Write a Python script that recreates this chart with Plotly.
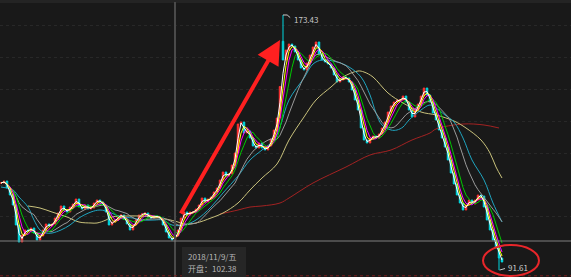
import plotly.graph_objects as go
import pandas as pd

# ---- data (price values) ----
close = [
    119.53, 120.18, 117.93, 115.68, 112.48, 106.06, 100.61, 102.85, 104.46, 104.14,
    105.10, 103.49, 101.25, 102.53, 104.46, 106.38, 105.74, 106.38, 108.31, 109.91,
    112.16, 110.87, 110.23, 111.83, 112.80, 114.40, 111.83, 111.19, 112.48, 111.19,
    111.51, 113.12, 114.08, 113.44, 112.48, 110.23, 106.06, 107.02, 107.66, 108.95,
    109.27, 107.98, 106.38, 104.46, 106.06, 107.66, 109.27, 109.59, 109.91, 108.63,
    108.31, 108.95, 108.63, 108.31, 106.06, 103.81, 101.89, 101.25, 102.53, 104.46,
    108.31, 110.23, 109.27, 110.23, 110.23, 111.19, 112.48, 114.72, 113.44, 114.40,
    115.04, 116.65, 117.93, 120.50, 123.06, 121.78, 122.42, 125.31, 129.16, 138.46,
    139.10, 135.57, 136.22, 133.97, 131.40, 130.76, 132.37, 130.76, 130.12, 131.40,
    133.65, 136.54, 140.39, 150.50, 158.99, 162.20, 164.12, 163.48, 161.56, 158.99,
    156.43, 155.78, 158.03, 160.60, 163.16, 164.77, 160.92, 158.99, 158.35, 157.71,
    156.43, 154.18, 151.93, 152.58, 153.54, 153.22, 151.93, 149.37, 146.16, 142.95,
    137.18, 133.33, 132.37, 133.97, 134.61, 133.97, 135.25, 137.18, 139.10, 142.31,
    144.24, 145.52, 146.16, 146.16, 147.44, 145.52, 142.95, 140.71, 142.95, 144.88,
    147.44, 150.01, 147.76, 145.52, 141.99, 139.74, 136.54, 133.97, 131.08, 126.91,
    122.74, 119.21, 115.68, 113.12, 110.87, 112.48, 114.08, 112.80, 114.08, 115.68,
    115.36, 111.83, 107.66, 104.46, 101.25, 98.68, 95.47, 94.19,
]
open_override = {94: 165.00}
high_override = {94: 173.43}
low_override = {166: 91.61}

# long moving averages (candle index, price)
ma_cyan_idx = [0, 4, 6, 9, 11, 13, 15, 17, 20, 23, 26, 30, 33, 36, 40, 44, 47, 51, 54, 57,
               61, 65, 70, 74, 79, 83, 87, 91, 93, 96, 101, 104, 107, 112, 116, 120, 123,
               125, 127, 130, 132, 134, 136, 140, 143, 145, 148, 151, 154, 157, 161, 164, 167]
ma_cyan_val = [118.25, 117.29, 115.04, 111.83, 107.66, 104.46, 103.49, 103.49, 104.46, 106.06,
               108.31, 110.23, 110.87, 110.23, 108.63, 108.31, 107.66, 107.66, 107.66, 106.06,
               106.06, 107.66, 111.83, 116.34, 121.77, 126.91, 130.12, 133.33, 137.50, 146.16,
               153.22, 157.71, 158.99, 158.35, 156.75, 153.54, 147.76, 141.99, 138.14, 136.54,
               136.54, 137.50, 139.74, 142.95, 144.56, 143.59, 141.35, 139.10, 133.97, 126.91,
               120.50, 113.12, 107.02]

ma_khaki_idx = [9, 13, 17, 22, 26, 30, 32, 35, 37, 42, 46, 51, 55, 59, 61, 65, 70, 74, 79, 83,
                87, 92, 96, 101, 105, 110, 114, 119, 121, 124, 129, 134, 140, 145, 151, 155,
                160, 163, 165, 167]
ma_khaki_val = [112.16, 111.51, 110.23, 108.63, 107.02, 106.70, 106.70, 107.66, 108.63, 108.95,
                108.95, 108.63, 107.98, 107.02, 106.38, 106.70, 108.31, 109.91, 113.12, 117.29,
                121.14, 125.63, 133.33, 140.71, 146.16, 150.33, 153.54, 155.46, 155.14, 153.54,
                148.41, 145.20, 142.31, 141.35, 139.42, 137.18, 133.33, 129.16, 124.67, 121.14]

ma_red_idx = [73, 79, 83, 87, 93, 96, 104, 115, 123, 130, 137, 143, 145, 154, 161, 166]
ma_red_val = [109.59, 110.87, 111.83, 112.16, 113.12, 114.72, 119.53, 124.67, 128.52, 130.12,
              133.33, 135.57, 136.86, 138.46, 138.14, 137.18]

hover_price = 100.93
max_label = "173.43"
min_label = "91.61"
tip_date = "2018/11/9/五"
tip_open = "开盘：102.38"

# ---- build OHLC ----
n = len(close)
idx = list(range(n))
opens = [close[0]] + close[:-1]
for k, v in open_override.items():
    opens[k] = v
highs = [max(o, c) for o, c in zip(opens, close)]
lows = [min(o, c) for o, c in zip(opens, close)]
for k, v in high_override.items():
    highs[k] = v
for k, v in low_override.items():
    lows[k] = v

s = pd.Series(close)
short_mas = [(2, "#ffffff"), (3, "#ffff00"), (4, "#ff00ff"), (6, "#00c800"), (12, "#9a9a9a")]

BG = "#191919"
FONT = "Noto Sans CJK SC, sans-serif"

fig = go.Figure()
fig.add_trace(go.Candlestick(
    x=idx, open=opens, high=highs, low=lows, close=close,
    increasing=dict(line=dict(color="#ff3030", width=1), fillcolor="#ff3030"),
    decreasing=dict(line=dict(color="#00d8e0", width=1), fillcolor="#00d8e0"),
    hoverinfo="skip", showlegend=False,
))
fig.add_trace(go.Scatter(x=ma_red_idx, y=ma_red_val, mode="lines", line=dict(color="#a32222", width=1, shape="spline"), hoverinfo="skip", showlegend=False))
fig.add_trace(go.Scatter(x=ma_khaki_idx, y=ma_khaki_val, mode="lines", line=dict(color="#c9c27c", width=1, shape="spline"), hoverinfo="skip", showlegend=False))
fig.add_trace(go.Scatter(x=ma_cyan_idx, y=ma_cyan_val, mode="lines", line=dict(color="#1fa5c0", width=1, shape="spline"), hoverinfo="skip", showlegend=False))
for w, col in reversed(short_mas):
    fig.add_trace(go.Scatter(x=idx, y=s.rolling(w, min_periods=1).mean(), mode="lines",
                             line=dict(color=col, width=1), hoverinfo="skip", showlegend=False))

# y pixel -> price:  p = 178.24 - 0.3208*y
grid_prices = [170.22, 159.95, 149.69, 139.42, 129.16, 118.89, 108.63]

fig.update_layout(
    width=571, height=277, margin=dict(l=0, r=0, t=0, b=0),
    paper_bgcolor=BG, plot_bgcolor=BG,
    xaxis=dict(range=[-1/3, 190], visible=True, showticklabels=False, showgrid=False,
               zeroline=False, rangeslider=dict(visible=False), fixedrange=True),
    yaxis=dict(range=[89.38, 178.24], showticklabels=False, zeroline=False,
               tickvals=grid_prices, showgrid=True, gridcolor="#282828", griddash="dot",
               gridwidth=1, fixedrange=True),
    showlegend=False,
)

shapes = [
    dict(type="rect", xref="paper", yref="paper", x0=0, x1=1, y0=1 - 3/277, y1=1,
         fillcolor="#242424", line=dict(width=0), layer="below"),
    dict(type="line", xref="x", yref="paper", x0=58, x1=58, y0=0, y1=1 - 2/277,
         line=dict(color="#4a4a4a", width=2)),
    dict(type="line", xref="paper", yref="y", x0=0, x1=1, y0=hover_price, y1=hover_price,
         line=dict(color="#808080", width=1)),
    dict(type="line", xref="paper", yref="paper", x0=0, x1=1, y0=1.2/277, y1=1.2/277,
         line=dict(color="#7a1e1e", width=1, dash="dot")),
    dict(type="rect", xref="paper", yref="paper", x0=182/571, x1=246/571, y0=-0.02, y1=1 - 247/277,
         fillcolor="#262626", line=dict(width=0)),
    dict(type="circle", xref="x", yref="y", x0=160.67, x1=179.33, y0=89.70, y1=99.64,
         line=dict(color="#e8262a", width=2)),
    dict(type="path", xref="x", yref="y",
         path="M 94,173.43 L 95.4,173.43 L 96.4,172.6",
         line=dict(color="#cccccc", width=1)),
    dict(type="path", xref="x", yref="y",
         path="M 166.2,91.61 L 168,92.1",
         line=dict(color="#cccccc", width=1)),
]
fig.update_layout(shapes=shapes)

annotations = [
    dict(x=93, y=165.41, xref="x", yref="y", ax=59.67, ay=109.27, axref="x", ayref="y",
         text="", showarrow=True, arrowhead=2, arrowsize=1.2, arrowwidth=4, arrowcolor="#ff2020"),
    dict(x=97.0, y=172.14, xref="x", yref="y", text=max_label, showarrow=False,
         xanchor="left", yanchor="middle", font=dict(family=FONT, size=8, color="#c8c8c8")),
    dict(x=168.3, y=92.27, xref="x", yref="y", text=min_label, showarrow=False,
         xanchor="left", yanchor="middle", font=dict(family=FONT, size=8, color="#d0d0d0")),
    dict(x=186/571, y=1 - 256/277, xref="paper", yref="paper", text=tip_date, showarrow=False,
         xanchor="left", yanchor="middle", font=dict(family=FONT, size=8, color="#b8b8b8")),
    dict(x=186/571, y=1 - 268.5/277, xref="paper", yref="paper", text=tip_open, showarrow=False,
         xanchor="left", yanchor="middle", font=dict(family=FONT, size=8, color="#b8b8b8")),
]
fig.update_layout(annotations=annotations)

fig.write_html("out.html", config=dict(displayModeBar=False, staticPlot=True))
